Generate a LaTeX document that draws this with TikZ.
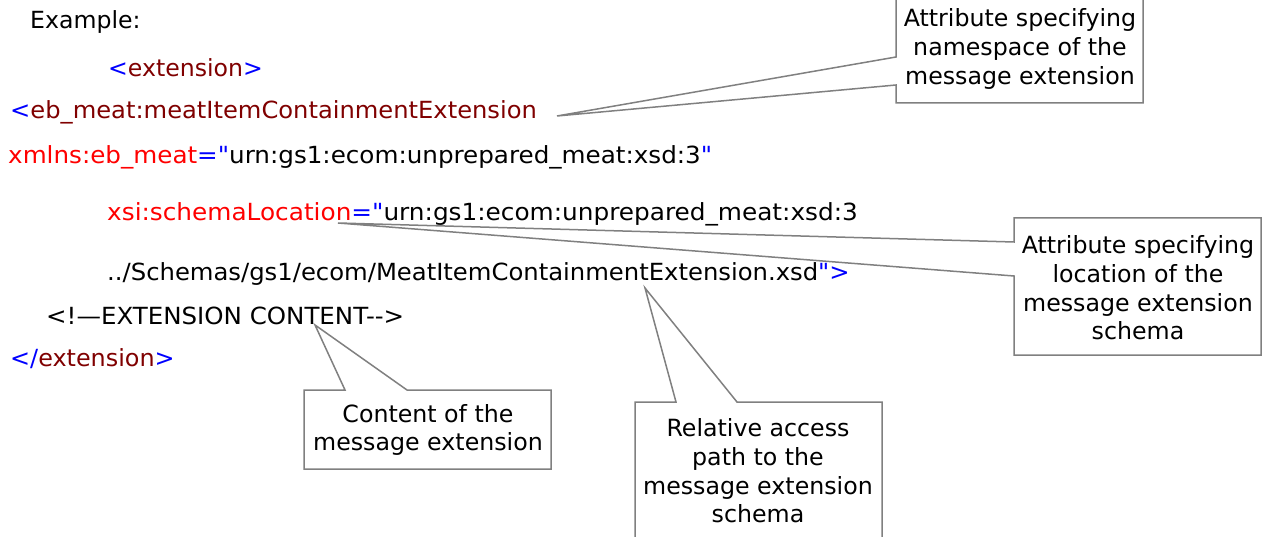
\documentclass[tikz,border=0pt]{standalone}
\usepackage{fontspec}
\newfontfamily\dvs{DejaVu Sans}
\definecolor{tagblue}{RGB}{0,0,255}
\definecolor{elemred}{RGB}{128,0,0}
\definecolor{attrred}{RGB}{255,0,0}
\definecolor{callgray}{RGB}{128,128,128}
\newcommand{\tb}[1]{\textcolor{tagblue}{#1}}
\newcommand{\te}[1]{\textcolor{elemred}{#1}}
\newcommand{\ta}[1]{\textcolor{attrred}{#1}}
\newcommand{\sx}[2]{\scalebox{#1}[1]{#2}}
\begin{document}
\begin{tikzpicture}[x=1pt,y=-1pt,
  code/.style={anchor=base west, inner sep=0pt, font=\dvs\fontsize{23.6}{28.7}\selectfont},
  callout/.style={draw=callgray, fill=white, line width=1.5pt, line join=miter},
  calltext/.style={align=center, inner sep=0pt, font=\dvs\fontsize{23.7}{28.7}\selectfont}]
\clip (0,0) rectangle (1266,537);
\fill[white] (0,0) rectangle (1266,537);

% code lines
\node[code] (l1) at (30,29) {Example:};
\node[code] (l2) at (108,77) {\tb{<}\te{extension}\tb{>}};
\node[code] (l3) at (10,119) {\sx{1.025}{\tb{<}\te{eb\_meat:meatItemContainmentExtension}}};
\node[code] (l4) at (8,164) {\sx{1.043}{\ta{xmlns:eb\_meat}\tb{="}urn:gs1:ecom:unprepared\_meat:xsd:3\tb{"}}};
\node[code] (l5) at (107,221) {\sx{1.049}{\ta{xsi:schemaLocation}\tb{="}urn:gs1:ecom:unprepared\_meat:xsd:3}};
\node[code] (l6) at (107,281) {\sx{1.029}{../Schemas/gs1/ecom/MeatItemContainmentExtension.xsd\tb{">}}};
\node[code] (l7) at (46,324) {\sx{1.038}{<!—EXTENSION CONTENT-{}->}};
\node[code] (l8) at (10,366) {\sx{1.012}{\tb{</}\te{extension}\tb{>}}};

% callout tips
\coordinate (t1) at (557,116);
\coordinate (t2) at (338,223);
\coordinate (t3) at (315,325);
\coordinate (t4) at (645,288);

% callout 1: namespace
\draw[callout] (896,57) -- (t1) -- (896,85) -- (896,103) -- (1143,103) -- (1143,-3) -- (896,-3) -- cycle;
\node[calltext] (c1) at (1020,49) {Attribute specifying\\namespace of the\\message extension};

% callout 2: location
\draw[callout] (1014,242) -- (t2) -- (1014,276) -- (1014,355) -- (1261,355) -- (1261,218) -- (1014,218) -- cycle;
\node[calltext] (c2) at (1138,288) {Attribute specifying\\location of the\\message extension\\schema};

% callout 3: content
\draw[callout] (345,390) -- (t3) -- (407,390) -- (551,390) -- (551,469) -- (304,469) -- (304,390) -- cycle;
\node[calltext] (c3) at (428,430) {Content of the\\message extension};

% callout 4: relative path
\draw[callout] (676,402) -- (t4) -- (737,402) -- (882,402) -- (882,545) -- (635,545) -- (635,402) -- cycle;
\node[calltext] (c4) at (758,471) {Relative access\\path to the\\message extension\\schema};
\end{tikzpicture}
\end{document}
